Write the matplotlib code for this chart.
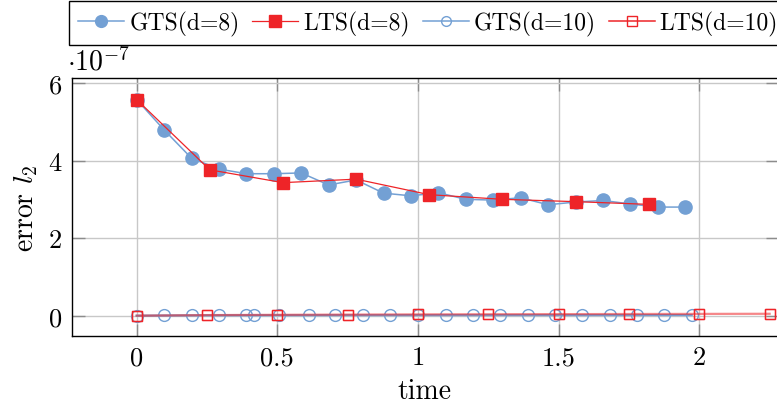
import matplotlib.pyplot as plt
from matplotlib.lines import Line2D

plt.rcParams['font.family'] = ['cmr10']
plt.rcParams['mathtext.fontset'] = 'cm'
plt.rcParams['axes.unicode_minus'] = False

# error values in units of 1e-7
t_gts8 = [0, 0.0975, 0.195, 0.2925, 0.39, 0.4875, 0.585, 0.6825, 0.78, 0.8775, 0.975,
          1.0725, 1.17, 1.2675, 1.365, 1.4625, 1.56, 1.6575, 1.755, 1.8525, 1.95]
e_gts8 = [5.57, 4.79, 4.06, 3.78, 3.66, 3.66, 3.68, 3.37, 3.50, 3.16, 3.09,
          3.17, 3.00, 2.98, 3.04, 2.86, 2.93, 2.97, 2.88, 2.80, 2.80]

t_lts8 = [0, 0.26, 0.52, 0.78, 1.04, 1.30, 1.56, 1.82]
e_lts8 = [5.57, 3.76, 3.43, 3.52, 3.12, 3.00, 2.94, 2.87]

t_gts10 = [0, 0.097, 0.195, 0.292, 0.387, 0.416, 0.505, 0.611, 0.706, 0.804, 0.901,
           0.999, 1.098, 1.194, 1.293, 1.391, 1.486, 1.584, 1.681, 1.779, 1.876, 1.973]
e_gts10 = [0.0, 0.005, 0.008, 0.010, 0.011, 0.011, 0.012, 0.012, 0.013, 0.013, 0.013,
           0.014, 0.014, 0.014, 0.015, 0.015, 0.015, 0.015, 0.016, 0.016, 0.016, 0.016]

t_lts10 = [0, 0.25, 0.5, 0.75, 1.0, 1.25, 1.5, 1.75, 2.0, 2.25]
e_lts10 = [0.0, 0.015, 0.022, 0.028, 0.033, 0.037, 0.040, 0.043, 0.046, 0.049]

azul = '#73A0D4'
rojo = '#EE2428'

figura = plt.figure(figsize=(7.77, 4.06), dpi=100)
ejes = figura.add_axes([71.7 / 777, 1 - 336.7 / 406, (777.5 - 71.7) / 777, (336.7 - 79.3) / 406])

ejes.plot(t_gts8, e_gts8, color=azul, lw=1.1, marker='o', ms=9.5, mec=azul, mfc=azul,
          label='GTS(d=8)', zorder=3)
ejes.plot(t_lts8, e_lts8, color=rojo, lw=0.9, marker='s', ms=8.6, mec=rojo, mfc=rojo,
          label='LTS(d=8)', zorder=4)
ejes.plot(t_gts10, e_gts10, color=azul, lw=1.6, marker='o', ms=8.5, mec=azul,
          mfc='none', mew=1.0, label='GTS(d=10)', zorder=3)
ejes.plot(t_lts10, e_lts10, color=rojo, lw=1.6, alpha=0.55, marker='s', ms=7.6, mec=rojo,
          mfc='none', mew=1.0, label='LTS(d=10)', zorder=4)
# marcadores de LTS(d=10) con color pleno
ejes.plot(t_lts10, e_lts10, ls='none', marker='s', ms=7.6, mec=rojo, mfc='none', mew=1.0, zorder=5)

ejes.set_xlim(-0.231, 2.278)
ejes.set_ylim(-0.516, 6.12)
ejes.set_xticks([0, 0.5, 1, 1.5, 2])
ejes.set_xticklabels(['0', '0.5', '1', '1.5', '2'])
ejes.set_yticks([0, 2, 4, 6])
ejes.set_yticklabels(['0', '2', '4', '6'])
ejes.tick_params(direction='in', length=9, width=1, color='#8c8c8c', labelsize=19,
                 top=True, right=True, pad=7)
ejes.grid(True, color='#c8c8c8', lw=1)
ejes.set_axisbelow(True)
for s in ejes.spines.values():
    s.set_linewidth(1.0)
    s.set_color('black')

ejes.set_xlabel('time', fontsize=20, labelpad=6)
ejes.set_ylabel('error $l_2$', fontsize=20, labelpad=6)
ejes.text(-0.006, 1.012, r'$\cdot 10^{-7}$', transform=ejes.transAxes, fontsize=20,
          ha='left', va='bottom')

handles = [
    Line2D([], [], color=azul, lw=1.1, marker='o', ms=8.5, mfc=azul, mec=azul),
    Line2D([], [], color=rojo, lw=0.9, marker='s', ms=8, mfc=rojo, mec=rojo),
    Line2D([], [], color=azul, lw=1.1, marker='o', ms=7, mfc='none', mec=azul),
    Line2D([], [], color=rojo, lw=1.1, marker='s', ms=7, mfc='none', mec=rojo),
]
leg = figura.legend(handles, ['GTS(d=8)', 'LTS(d=8)', 'GTS(d=10)', 'LTS(d=10)'],
                    ncol=4, loc='upper left', bbox_to_anchor=(69 / 777, 1 - 2 / 406),
                    fontsize=17, frameon=True, fancybox=False, edgecolor='black',
                    framealpha=1, handlelength=1.95, handletextpad=0.2,
                    columnspacing=0.55, borderpad=0.4, borderaxespad=0)
leg.get_frame().set_linewidth(1.0)

figura.savefig('out.png', dpi=100)
